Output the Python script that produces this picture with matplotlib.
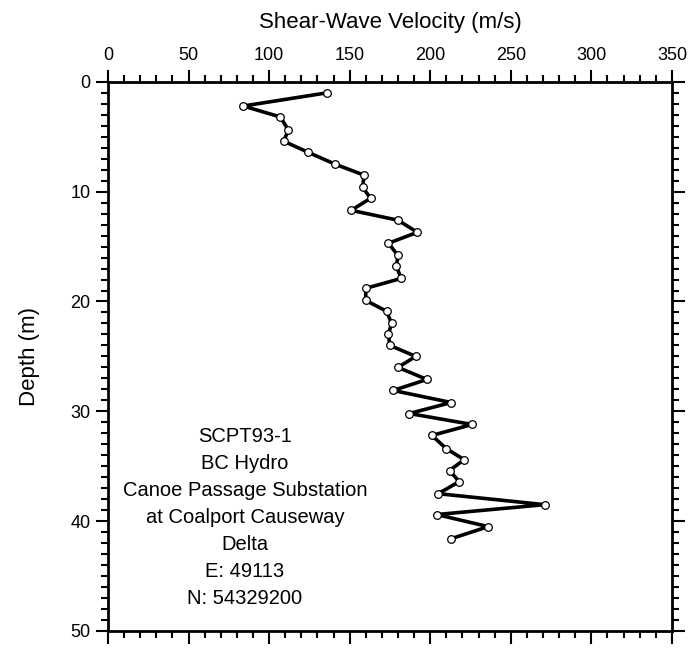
import numpy as np
import matplotlib.pyplot as plt
from matplotlib.ticker import MultipleLocator

plt.rcParams['font.family'] = ['Liberation Sans', 'DejaVu Sans']

depth = [1.0, 2.2, 3.2, 4.4, 5.4, 6.4, 7.5, 8.5, 9.6, 10.6, 11.7, 12.6,
         13.7, 14.7, 15.8, 16.8, 17.9, 18.8, 19.9, 20.9, 22.0, 23.0, 24.0,
         25.0, 26.0, 27.1, 28.1, 29.2, 30.2, 31.2, 32.2, 33.4, 34.4, 35.4,
         36.4, 37.5, 38.5, 39.4, 40.5, 41.6]
vs = [136, 84, 107, 112, 109, 124, 141, 159, 158, 163, 151, 180,
      192, 174, 180, 179, 182, 160, 160, 173, 176, 174, 175,
      191, 180, 198, 177, 213, 187, 226, 201, 210, 221, 212,
      218, 205, 271, 204, 236, 213]

site_lines = ["SCPT93-1", "BC Hydro", "Canoe Passage Substation",
              "at Coalport Causeway", "Delta", "E: 49113", "N: 54329200"]

fig = plt.figure(figsize=(6.92, 6.60), dpi=100)
ax = fig.add_axes([0.156, 0.044, 0.815, 0.832])

ax.plot(vs, depth, color='black', lw=2.6, marker='o', ms=5.5,
        mfc='white', mec='black', mew=0.9)

ax.set_xlim(0, 350)
ax.set_ylim(50, 0)
ax.xaxis.set_major_locator(MultipleLocator(50))
ax.xaxis.set_minor_locator(MultipleLocator(10))
ax.yaxis.set_major_locator(MultipleLocator(10))
ax.yaxis.set_minor_locator(MultipleLocator(1))

ax.xaxis.set_ticks_position('both')
ax.yaxis.set_ticks_position('both')
ax.xaxis.set_label_position('top')
ax.tick_params(which='both', direction='out', width=1.5,
               top=True, bottom=True, left=True, right=True,
               labeltop=True, labelbottom=False, labelsize=13)
ax.tick_params(which='major', length=9)
ax.tick_params(which='minor', length=5)
for s in ax.spines.values():
    s.set_linewidth(2)

ax.set_xlabel("Shear-Wave Velocity (m/s)", fontsize=16, labelpad=14)
ax.set_ylabel("Depth (m)", fontsize=16, labelpad=22)

for i, line in enumerate(site_lines):
    ax.text(85, 32.3 + i * 2.46, line, ha='center', va='center', fontsize=14.5)

fig.savefig("out.png", dpi=100)
